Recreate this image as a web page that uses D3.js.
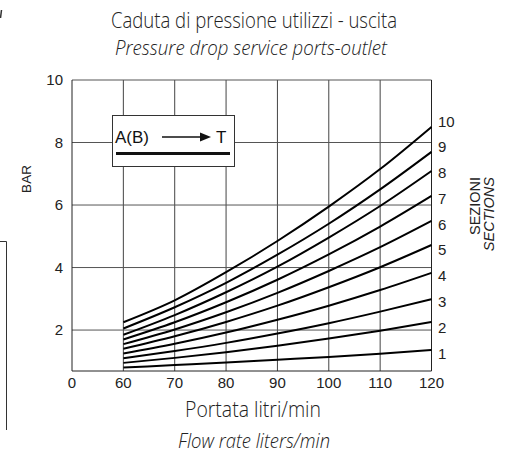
<!DOCTYPE html>
<html>
<head>
<meta charset="utf-8">
<script src="https://cdn.jsdelivr.net/npm/d3@7"></script>
<style>
  body { margin: 0; background: #fff; }
  svg { display: block; }
</style>
</head>
<body>
<div id="chart"></div>
<script>
// flow (l/min) on x, pressure drop (bar) on y
var flowTicks = [0, 60, 70, 80, 90, 100, 110, 120];
var flowPoints = [60, 70, 80, 90, 100, 110, 120];
var barTicks = [2, 4, 6, 8, 10];
var sections = [1, 2, 3, 4, 5, 6, 7, 8, 9, 10];

// one list per number of sections, read at 60..120 l/min
var sez1 = [0.80, 0.88, 0.96, 1.05, 1.14, 1.24, 1.36];
var sez2 = [0.95, 1.11, 1.29, 1.50, 1.73, 1.98, 2.26];
var sez3 = [1.10, 1.33, 1.59, 1.89, 2.22, 2.59, 2.99];
var sez4 = [1.25, 1.56, 1.92, 2.33, 2.78, 3.28, 3.83];
var sez5 = [1.40, 1.80, 2.26, 2.78, 3.37, 4.01, 4.72];
var sez6 = [1.55, 2.02, 2.57, 3.19, 3.89, 4.65, 5.49];
var sez7 = [1.70, 2.25, 2.89, 3.61, 4.42, 5.31, 6.29];
var sez8 = [1.85, 2.48, 3.21, 4.03, 4.96, 5.97, 7.09];
var sez9 = [2.05, 2.73, 3.51, 4.41, 5.40, 6.50, 7.70];
var sez10 = [2.25, 2.95, 3.85, 4.85, 5.95, 7.15, 8.50];
var allSeries = [sez1, sez2, sez3, sez4, sez5, sez6, sez7, sez8, sez9, sez10];

var W = 510, H = 457;
var plot = { left: 72, right: 431.5, top: 80, bottom: 371 };

var svg = d3.select("#chart").append("svg")
  .attr("width", W)
  .attr("height", H);

// broken x axis: 0..60 squeezed into one step
var x = d3.scaleLinear()
  .domain([0, 60, 120])
  .range([plot.left, plot.left + (plot.right - plot.left) / 7, plot.right]);

var y = d3.scaleLinear()
  .domain([0.69, 10])
  .range([plot.bottom, plot.top]);

// section labels on the right, evenly stacked
var secY = d3.scaleLinear()
  .domain([1, 10])
  .range([353, 121]);

var textFont = "'Liberation Sans', Arial, sans-serif";
var titleFont = "'Open Sans', sans-serif";

// titles
svg.append("text")
  .attr("x", 254).attr("y", 28)
  .attr("text-anchor", "middle")
  .attr("font-family", titleFont).attr("font-weight", 300)
  .attr("font-size", 22).attr("fill", "#222")
  .attr("textLength", 286).attr("lengthAdjust", "spacingAndGlyphs")
  .text("Caduta di pressione utilizzi - uscita");

svg.append("text")
  .attr("x", 251).attr("y", 55)
  .attr("text-anchor", "middle")
  .attr("font-family", titleFont).attr("font-weight", 300).attr("font-style", "italic")
  .attr("font-size", 21).attr("fill", "#222")
  .attr("textLength", 272).attr("lengthAdjust", "spacingAndGlyphs")
  .text("Pressure drop service ports-outlet");

// grid
var g = svg.append("g");

g.selectAll("line.vgrid")
  .data(flowTicks.slice(1))
  .enter().append("line")
  .attr("class", "vgrid")
  .attr("x1", d => x(d)).attr("x2", d => x(d))
  .attr("y1", plot.top).attr("y2", plot.bottom)
  .attr("stroke", "#444").attr("stroke-width", 1);

g.selectAll("line.hgrid")
  .data(barTicks)
  .enter().append("line")
  .attr("class", "hgrid")
  .attr("x1", plot.left).attr("x2", plot.right)
  .attr("y1", d => y(d)).attr("y2", d => y(d))
  .attr("stroke", "#555").attr("stroke-width", 1);

// left and bottom frame
g.append("line")
  .attr("x1", plot.left).attr("x2", plot.left)
  .attr("y1", plot.top).attr("y2", plot.bottom)
  .attr("stroke", "#222");
g.append("line")
  .attr("x1", plot.left).attr("x2", plot.right)
  .attr("y1", plot.bottom).attr("y2", plot.bottom)
  .attr("stroke", "#222");

// tick labels
svg.selectAll("text.ylab")
  .data(barTicks)
  .enter().append("text")
  .attr("class", "ylab")
  .attr("x", plot.left - 9).attr("y", d => y(d) + 5)
  .attr("text-anchor", "end")
  .attr("font-family", textFont).attr("font-size", 15).attr("fill", "#222")
  .text(d => d);

svg.selectAll("text.xlab")
  .data(flowTicks)
  .enter().append("text")
  .attr("class", "xlab")
  .attr("x", d => x(d)).attr("y", plot.bottom + 17)
  .attr("text-anchor", "middle")
  .attr("font-family", textFont).attr("font-size", 15).attr("fill", "#222")
  .text(d => d);

// legend box
var box = svg.append("g");
box.append("rect")
  .attr("x", 112.5).attr("y", 115.5).attr("width", 122).attr("height", 51)
  .attr("fill", "#fff").attr("stroke", "#333").attr("stroke-width", 1);
box.append("text")
  .attr("x", 115).attr("y", 143)
  .attr("font-family", textFont).attr("font-size", 17).attr("fill", "#111")
  .text("A(B)");
box.append("line")
  .attr("x1", 162).attr("x2", 203).attr("y1", 137).attr("y2", 137)
  .attr("stroke", "#111").attr("stroke-width", 1.6);
box.append("path")
  .attr("d", "M200,132.5 L211,137 L200,141.5 Z")
  .attr("fill", "#111");
box.append("text")
  .attr("x", 216).attr("y", 143)
  .attr("font-family", textFont).attr("font-size", 17).attr("fill", "#111")
  .text("T");
box.append("line")
  .attr("x1", 116).attr("x2", 230).attr("y1", 153.5).attr("y2", 153.5)
  .attr("stroke", "#111").attr("stroke-width", 3);

// curves
var line = d3.line()
  .x((d, i) => x(flowPoints[i]))
  .y(d => y(d))
  .curve(d3.curveMonotoneX);

svg.selectAll("path.curve")
  .data(allSeries)
  .enter().append("path")
  .attr("class", "curve")
  .attr("d", line)
  .attr("fill", "none")
  .attr("stroke", "#000")
  .attr("stroke-width", 2);

// right frame drawn above curves
g.append("line")
  .attr("x1", plot.right).attr("x2", plot.right)
  .attr("y1", plot.top).attr("y2", plot.bottom)
  .attr("stroke", "#222");

// section numbers
svg.selectAll("text.sec")
  .data(sections)
  .enter().append("text")
  .attr("class", "sec")
  .attr("x", 438).attr("y", d => secY(d) + 5.5)
  .attr("font-family", textFont).attr("font-size", 15).attr("fill", "#222")
  .text(d => d);

// axis titles
svg.append("text")
  .attr("transform", "translate(31,179) rotate(-90)")
  .attr("text-anchor", "middle")
  .attr("font-family", textFont).attr("font-size", 13.5).attr("fill", "#222")
  .text("BAR");

svg.append("text")
  .attr("transform", "translate(480,177) rotate(-90)")
  .attr("text-anchor", "end")
  .attr("font-family", textFont).attr("font-size", 14.5).attr("fill", "#222")
  .text("SEZIONI");

svg.append("text")
  .attr("transform", "translate(494,177) rotate(-90)")
  .attr("text-anchor", "end")
  .attr("font-family", textFont).attr("font-size", 14.5).attr("font-style", "italic").attr("fill", "#222")
  .text("SECTIONS");

svg.append("text")
  .attr("x", 253).attr("y", 417)
  .attr("text-anchor", "middle")
  .attr("font-family", titleFont).attr("font-weight", 300)
  .attr("font-size", 22).attr("fill", "#222")
  .attr("textLength", 136).attr("lengthAdjust", "spacingAndGlyphs")
  .text("Portata litri/min");

svg.append("text")
  .attr("x", 254).attr("y", 448)
  .attr("text-anchor", "middle")
  .attr("font-family", titleFont).attr("font-weight", 300).attr("font-style", "italic")
  .attr("font-size", 21).attr("fill", "#222")
  .attr("textLength", 152).attr("lengthAdjust", "spacingAndGlyphs")
  .text("Flow rate liters/min");

// bits of the neighbouring figure cut off at the left edge
svg.append("path")
  .attr("d", "M0,241.5 H6.5 V430")
  .attr("fill", "none").attr("stroke", "#333").attr("stroke-width", 1);
svg.append("line")
  .attr("x1", 1.5).attr("x2", 0.5).attr("y1", 10).attr("y2", 18)
  .attr("stroke", "#333").attr("stroke-width", 1.5);
</script>
</body>
</html>
